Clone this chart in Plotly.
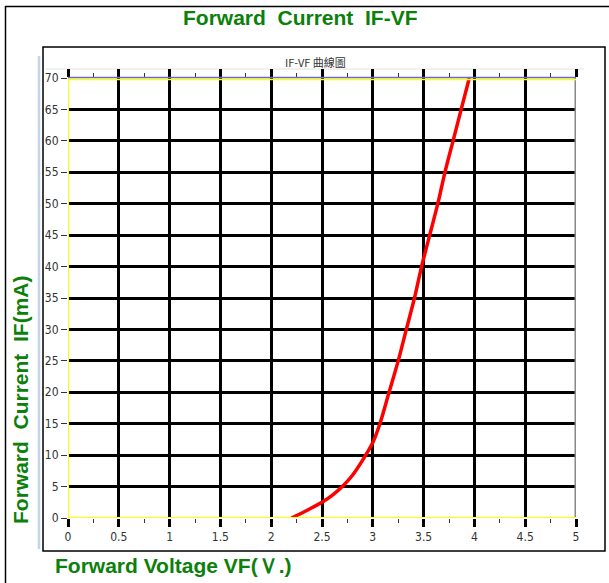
import plotly.graph_objects as go

# Data
vf = [2.2, 2.35, 2.5, 2.6, 2.7, 2.8, 2.9, 3.0, 3.07, 3.16, 3.25, 3.33, 3.41, 3.48, 3.56, 3.64, 3.71, 3.79, 3.87, 3.95]
if_ma = [0, 1.2, 2.5, 3.6, 5, 6.8, 9.2, 12, 15, 20, 25, 30, 35, 40, 45, 50, 55, 60, 65, 70]

x_ticks = [0, 0.5, 1, 1.5, 2, 2.5, 3, 3.5, 4, 4.5, 5]
x_tick_text = ["0", "0.5", "1", "1.5", "2", "2.5", "3", "3.5", "4", "4.5", "5"]
y_ticks = [0, 5, 10, 15, 20, 25, 30, 35, 40, 45, 50, 55, 60, 65, 70]

main_title = "Forward  Current  IF-VF"
inner_title = "IF-VF 曲線圖"
x_title = "Forward Voltage VF(Ｖ.)"
y_title = "Forward  Current  IF(mA)"

W, H = 609, 583
L, R, T, B = 68, 576, 78, 518


def px(x):
    return (x - L) / (R - L)


def py(y):
    return (B - y) / (B - T)


green = "#0b800b"
tickfont = dict(family="Liberation Sans Narrow, DejaVu Sans Condensed, Arial", size=12, color="#333333")

fig = go.Figure()
fig.add_trace(go.Scatter(x=vf, y=if_ma, mode="lines",
                         line=dict(color="#ff0000", width=3.5, shape="spline", smoothing=0.8),
                         hoverinfo="skip", showlegend=False))

fig.update_xaxes(range=[0, 5], tickvals=x_ticks, ticktext=x_tick_text,
                 showgrid=True, gridcolor="black", gridwidth=3,
                 zeroline=False, showline=True, linecolor="rgba(0,0,0,0)", linewidth=1,
                 ticks="outside", ticklen=8, tickwidth=3, tickcolor="black",
                 mirror="ticks",
                 minor=dict(dtick=0.25, ticks="outside", ticklen=4, tickwidth=1, tickcolor="#333", showgrid=False),
                 tickfont=tickfont, fixedrange=True)
fig.update_yaxes(range=[0, 70], tickvals=y_ticks,
                 showgrid=True, gridcolor="black", gridwidth=3,
                 zeroline=False, showline=False,
                 ticks="outside", ticklen=6, tickwidth=1, tickcolor="#333",
                 tickfont=tickfont, fixedrange=True)

shapes = []
# edge lines of plot area
shapes.append(dict(type="line", xref="x", yref="y", x0=5, x1=5, y0=0, y1=70, line=dict(color="#888888", width=3), layer="above"))
shapes.append(dict(type="line", xref="x", yref="y", x0=0, x1=0, y0=0, y1=70, line=dict(color="#ffff00", width=2), layer="above"))
shapes.append(dict(type="line", xref="x", yref="y", x0=0, x1=5, y0=0, y1=0, line=dict(color="#ffff00", width=2), layer="above"))
shapes.append(dict(type="line", xref="paper", yref="paper", x0=0, x1=1, y0=py(79.5), y1=py(79.5), line=dict(color="#ffff00", width=1.5), layer="above"))
shapes.append(dict(type="line", xref="paper", yref="paper", x0=0, x1=1, y0=py(77.5), y1=py(77.5), line=dict(color="#6a6ae0", width=1.5), layer="above"))
# inner panel
shapes.append(dict(type="rect", xref="paper", yref="paper", x0=px(43), x1=px(605), y0=py(551), y1=py(47),
                   line=dict(color="black", width=1.5), layer="below"))
shapes.append(dict(type="line", xref="paper", yref="paper", x0=px(39), x1=px(39), y0=py(549), y1=py(56),
                   line=dict(color="#c4d4ec", width=2.5), layer="below"))
shapes.append(dict(type="line", xref="paper", yref="paper", x0=px(46), x1=px(584), y0=py(69), y1=py(69),
                   line=dict(color="#e2e2e2", width=1), layer="below"))
# outer frame
shapes.append(dict(type="line", xref="paper", yref="paper", x0=px(5.5), x1=px(5.5), y0=py(583), y1=py(6),
                   line=dict(color="black", width=1.5), layer="below"))
shapes.append(dict(type="line", xref="paper", yref="paper", x0=px(5), x1=px(609), y0=py(6.5), y1=py(6.5),
                   line=dict(color="black", width=1.5), layer="below"))

annotations = [
    dict(text="<b>" + main_title + "</b>", xref="paper", yref="paper", x=px(300), y=py(18),
         xanchor="center", yanchor="middle", showarrow=False,
         font=dict(family="Liberation Sans, Arial", size=21, color=green)),
    dict(text=inner_title, xref="paper", yref="paper", x=px(315), y=py(62),
         xanchor="center", yanchor="middle", showarrow=False,
         font=dict(family="Noto Sans CJK TC, Liberation Sans", size=11, color="#333333")),
    dict(text="<b>" + x_title + "</b>", xref="paper", yref="paper", x=px(53), y=py(565),
         xanchor="left", yanchor="middle", showarrow=False,
         font=dict(family="Liberation Sans, Arial", size=21, color=green)),
    dict(text="<b>" + y_title + "</b>", xref="paper", yref="paper", x=px(20), y=py(400),
         xanchor="center", yanchor="middle", showarrow=False, textangle=-90,
         font=dict(family="Liberation Sans, Arial", size=21, color=green)),
]

fig.update_layout(width=W, height=H, margin=dict(l=L, r=W - R, t=T, b=H - B, pad=0),
                  paper_bgcolor="white", plot_bgcolor="white",
                  shapes=shapes, annotations=annotations, showlegend=False)

fig.write_html("out.html", config={"displayModeBar": False},
               post_script="document.body.style.margin='0px';document.body.style.overflow='hidden';")
